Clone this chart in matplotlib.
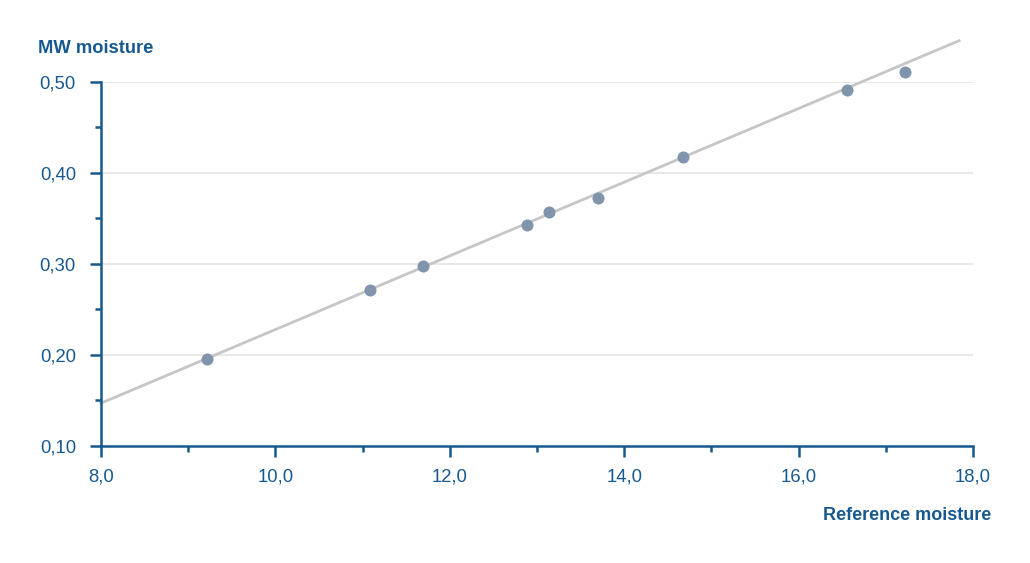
import matplotlib
matplotlib.use("Agg")
import matplotlib.pyplot as plt
from matplotlib.ticker import MultipleLocator, FuncFormatter

plt.rcParams['font.family'] = ['Liberation Sans', 'DejaVu Sans']

ref_moisture = [9.21, 11.09, 11.69, 12.89, 13.14, 13.70, 14.68, 16.55, 17.22]
mw_moisture = [0.1955, 0.2710, 0.2973, 0.3423, 0.3572, 0.3726, 0.4170, 0.4912, 0.5106]
fit_x = [8.0, 17.84]
fit_y = [0.147, 0.545]

x_ticks = [8, 10, 12, 14, 16, 18]
y_ticks = [0.1, 0.2, 0.3, 0.4, 0.5]

BLUE = '#17598f'
DOT = '#8094ab'

fig = plt.figure(figsize=(10.30, 5.63), dpi=100)
ax = fig.add_axes([101/1030, 1-446/563, (973-101)/1030, (446-81.7)/563])

ax.set_xlim(8, 18)
ax.set_ylim(0.1, 0.5)

for yv in y_ticks[1:]:
    ax.axhline(yv, color='#e4e4e4', lw=1.2, zorder=0)

ax.plot(fit_x, fit_y, color='#c6c6c6', lw=2.0, clip_on=False, zorder=2)
ax.scatter(ref_moisture, mw_moisture, s=75, color=DOT, zorder=3, clip_on=False, linewidths=0)

for s in ['top', 'right']:
    ax.spines[s].set_visible(False)
for s in ['left', 'bottom']:
    ax.spines[s].set_color(BLUE)
    ax.spines[s].set_linewidth(1.8)

ax.set_xticks(x_ticks)
ax.set_yticks(y_ticks)
ax.xaxis.set_minor_locator(MultipleLocator(1))
ax.yaxis.set_minor_locator(MultipleLocator(0.05))
ax.xaxis.set_major_formatter(FuncFormatter(lambda v, p: f"{v:.1f}".replace('.', ',')))
ax.yaxis.set_major_formatter(FuncFormatter(lambda v, p: f"{v:.2f}".replace('.', ',')))

ax.tick_params(axis='both', which='major', length=8, width=1.8, color=BLUE,
               labelcolor=BLUE, labelsize=13.3)
ax.tick_params(axis='both', which='minor', length=4, width=1.8, color=BLUE)
ax.tick_params(axis='x', which='major', pad=8)
ax.tick_params(axis='y', which='major', pad=10)

fig.text(38/1030, 1-53/563, 'MW moisture', color=BLUE, fontsize=13.2, fontweight='bold',
         ha='left', va='baseline')
fig.text(991/1030, 1-520/563, 'Reference moisture', color=BLUE, fontsize=13,
         fontweight='bold', ha='right', va='baseline')

fig.savefig('out.png', dpi=100)
